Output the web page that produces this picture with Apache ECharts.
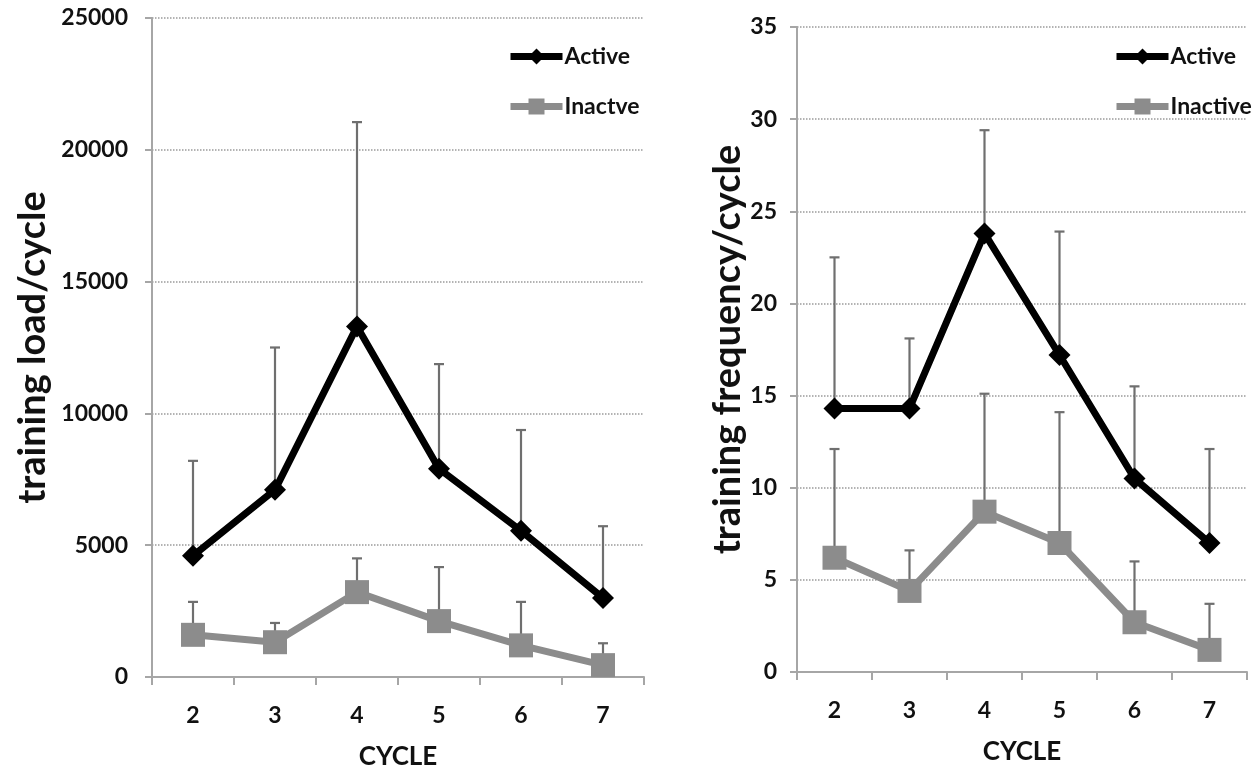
<!DOCTYPE html>
<html>
<head>
<meta charset="utf-8" />
<title>training load / frequency</title>
<script src="https://cdn.jsdelivr.net/npm/echarts@6/dist/echarts.min.js"></script>
</head>
<body style="margin:0;background:#fff;">
<div id="chart" style="width:1259px;height:767px;"></div>
<script>
	var cycles = ['2', '3', '4', '5', '6', '7'];

	// left panel: training load/cycle
	var loadActive = [4600, 7100, 13300, 7900, 5550, 3000];
	var loadActiveTop = [8200, 12500, 21050, 11870, 9370, 5720];
	var loadInactive = [1600, 1320, 3220, 2120, 1200, 450];
	var loadInactiveTop = [2850, 2050, 4500, 4170, 2850, 1280];

	// right panel: training frequency/cycle
	var freqActive = [14.3, 14.3, 23.8, 17.2, 10.5, 7.0];
	var freqActiveTop = [22.5, 18.1, 29.4, 23.9, 15.5, 12.1];
	var freqInactive = [6.2, 4.4, 8.7, 7.0, 2.7, 1.2];
	var freqInactiveTop = [12.1, 6.6, 15.1, 14.1, 6.0, 3.7];

	var font = 'Lato';
	var axisGray = '#a6a6a6';
	var barGray = '#6f6f6f';
	var inactiveGray = '#8c8c8c';

	function errData(mean, top) {
		var out = [];
		for (var i = 0; i < mean.length; i++) {
			out.push([i, mean[i], top[i]]);
		}
		return out;
	}

	function renderErr(params, api) {
		var p0 = api.coord([api.value(0), api.value(1)]);
		var p1 = api.coord([api.value(0), api.value(2)]);
		var st = { stroke: barGray, lineWidth: 2.2 };
		return {
			type: 'group',
			children: [
				{ type: 'line', shape: { x1: p0[0], y1: p0[1], x2: p1[0], y2: p1[1] }, style: st },
				{ type: 'line', shape: { x1: p1[0] - 5, y1: p1[1], x2: p1[0] + 5, y2: p1[1] }, style: st }
			]
		};
	}

	function xAxisFor(idx) {
		return {
			type: 'category',
			gridIndex: idx,
			data: cycles,
			name: 'CYCLE',
			nameLocation: 'middle',
			nameGap: 67,
			nameTextStyle: { fontFamily: font, fontWeight: 'bold', fontSize: 26, color: '#111' },
			axisLine: { lineStyle: { color: axisGray, width: 2 } },
			axisTick: { show: true, length: 8, lineStyle: { color: axisGray, width: 2 } },
			axisLabel: { margin: 27, fontFamily: font, fontWeight: 'bold', fontSize: 23, color: '#111' },
			splitLine: { show: false }
		};
	}

	function yAxisFor(idx, max, step, name, gap, labelGap) {
		return {
			type: 'value',
			gridIndex: idx,
			min: 0,
			max: max,
			interval: step,
			name: name,
			nameLocation: 'middle',
			nameGap: gap,
			nameTextStyle: { fontFamily: font, fontWeight: 'bold', fontSize: 38, color: '#111' },
			axisLine: { show: true, lineStyle: { color: axisGray, width: 2 } },
			axisTick: { show: true, length: 7, lineStyle: { color: axisGray, width: 2 } },
			axisLabel: {
				margin: labelGap, fontFamily: font, fontWeight: 'bold', fontSize: 23, color: '#111',
				formatter: function (v) { return String(v); }
			},
			splitLine: { show: true, lineStyle: { color: '#9a9a9a', type: 'dotted', width: 1.5 } }
		};
	}

	function lineSeries(name, idx, data, color, symbol, size) {
		return {
			name: name,
			type: 'line',
			xAxisIndex: idx,
			yAxisIndex: idx,
			data: data,
			symbol: symbol,
			symbolSize: size,
			lineStyle: { color: color, width: 7 },
			itemStyle: { color: color },
			z: 5
		};
	}

	function legendFor(names, left, top) {
		return {
			orient: 'vertical',
			left: left, top: top,
			padding: 0,
			itemWidth: 52, itemHeight: 20, itemGap: 27,
			lineStyle: { width: 7 },
			textStyle: { fontFamily: font, fontWeight: 'bold', fontSize: 23, color: '#111', padding: [0, 0, 0, -3] },
			data: names
		};
	}

	var myChart = echarts.init(document.getElementById('chart'));

	var options = {
		animation: false,
		grid: [
			{ left: 152, top: 18, width: 492, height: 659, outerBoundsMode: 'none' },
			{ left: 797, top: 27, width: 450, height: 645, outerBoundsMode: 'none' }
		],
		legend: [
			legendFor(['Active', 'Inactve'], 507, 45),
			legendFor(['Active', 'Inactive'], 1113, 45)
		],
		xAxis: [xAxisFor(0), xAxisFor(1)],
		yAxis: [
			yAxisFor(0, 25000, 5000, 'training load/cycle', 100, 24),
			yAxisFor(1, 35, 5, 'training frequency/cycle', 48, 20)
		],
		series: [
			{ type: 'custom', xAxisIndex: 0, yAxisIndex: 0, data: errData(loadActive, loadActiveTop), renderItem: renderErr, z: 1, silent: true },
			{ type: 'custom', xAxisIndex: 0, yAxisIndex: 0, data: errData(loadInactive, loadInactiveTop), renderItem: renderErr, z: 1, silent: true },
			{ type: 'custom', xAxisIndex: 1, yAxisIndex: 1, data: errData(freqActive, freqActiveTop), renderItem: renderErr, z: 1, silent: true },
			{ type: 'custom', xAxisIndex: 1, yAxisIndex: 1, data: errData(freqInactive, freqInactiveTop), renderItem: renderErr, z: 1, silent: true },
			lineSeries('Active', 0, loadActive, '#000', 'diamond', 22),
			lineSeries('Inactve', 0, loadInactive, inactiveGray, 'rect', 24),
			lineSeries('Active', 1, freqActive, '#000', 'diamond', 22),
			lineSeries('Inactive', 1, freqInactive, inactiveGray, 'rect', 24)
		]
	};

	myChart.setOption(options);
</script>
</body>
</html>
